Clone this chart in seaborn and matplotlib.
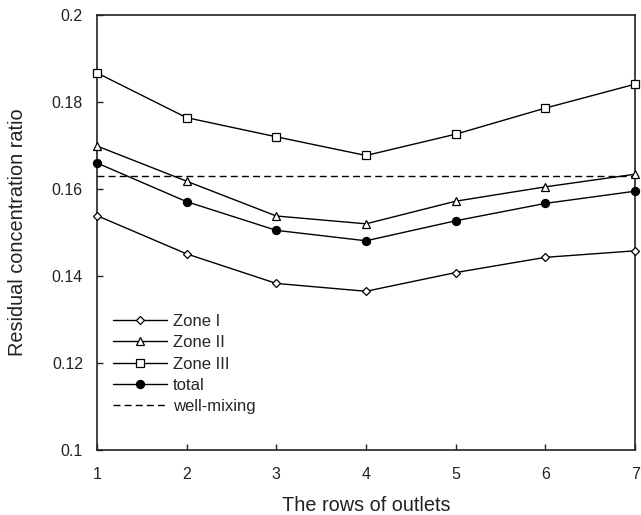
import matplotlib
matplotlib.use("Agg")
import matplotlib.pyplot as plt
import seaborn as sns
import pandas as pd

rows = [1, 2, 3, 4, 5, 6, 7]
zone1 = [0.1539, 0.1451, 0.1383, 0.1365, 0.1408, 0.1443, 0.1458]
zone2 = [0.1699, 0.1618, 0.1538, 0.1520, 0.1572, 0.1605, 0.1634]
zone3 = [0.1867, 0.1764, 0.1720, 0.1677, 0.1726, 0.1786, 0.1841]
total = [0.1660, 0.1571, 0.1505, 0.1481, 0.1527, 0.1567, 0.1595]
well_mixing = 0.163
series_names = ["Zone I", "Zone II", "Zone III", "total"]
yticks = [0.1, 0.12, 0.14, 0.16, 0.18, 0.2]
yticklabels = ["0.1", "0.12", "0.14", "0.16", "0.18", "0.2"]

sns.set_style("ticks")
plt.rcParams['font.family'] = ['Liberation Sans', 'DejaVu Sans']

df = pd.DataFrame({
    "row": rows * 4,
    "value": zone1 + zone2 + zone3 + total,
    "series": sum([[n] * len(rows) for n in series_names], []),
})

fig = plt.figure(figsize=(6.41, 5.15), dpi=100)
ax = fig.add_axes([0.151, 0.126, 0.840, 0.845])

styles = {
    "Zone I": dict(marker="D", ms=4.2, mfc="white"),
    "Zone II": dict(marker="^", ms=6, mfc="white"),
    "Zone III": dict(marker="s", ms=5.2, mfc="white"),
    "total": dict(marker="o", ms=5.8, mfc="black"),
}
for name in series_names:
    sub = df[df["series"] == name]
    st = styles[name]
    sns.lineplot(data=sub, x="row", y="value", ax=ax, color="black", lw=1.0,
                 marker=st["marker"], markersize=st["ms"], markerfacecolor=st["mfc"],
                 markeredgecolor="black", markeredgewidth=0.9, label=name,
                 clip_on=False, zorder=3)

ax.axhline(well_mixing, color="black", lw=1.0, ls=(0, (5, 3)), label="well-mixing")

ax.set_xlim(1, 7)
ax.set_ylim(0.1, 0.2)
ax.set_xticks(rows)
ax.set_yticks(yticks)
ax.set_yticklabels(yticklabels)
ax.tick_params(direction="in", length=4, labelsize=11.5, width=1, colors="#222222")
ax.tick_params(axis="x", pad=12)
ax.tick_params(axis="y", pad=10)
for s in ax.spines.values():
    s.set_linewidth(1.2)
    s.set_color("#222222")
ax.set_xlabel("The rows of outlets", fontsize=14.3, labelpad=10, color="#222222")
ax.set_ylabel("Residual concentration ratio", fontsize=14.3, labelpad=18, color="#222222")

ax.legend(loc="upper left", bbox_to_anchor=(0.03, 0.313), frameon=False, fontsize=12,
          handlelength=3.25, handletextpad=0.35, labelspacing=0.38, borderaxespad=0,
          borderpad=0)

fig.savefig("out.png", dpi=100)
